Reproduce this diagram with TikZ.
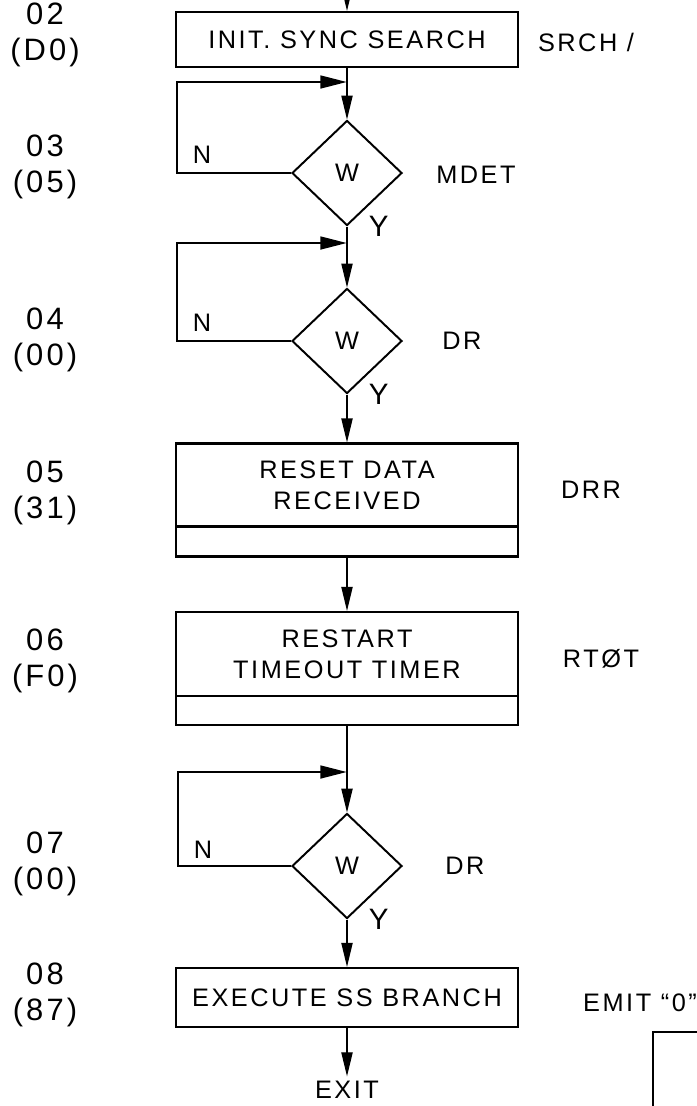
\documentclass[tikz,border=0pt]{standalone}
\usepackage{fontspec}
\setmainfont{Liberation Sans}[LetterSpace=10]
\usetikzlibrary{positioning,shapes.geometric,arrows.meta}

\begin{document}
\begin{tikzpicture}[x=0.025cm, y=-0.025cm,
    every node/.style={font=\fontsize{18}{22}\selectfont},
    procbox/.style={draw, line width=1.6pt, minimum width=8.55cm, align=center, inner sep=2pt},
    waitdia/.style={draw, diamond, line width=1.4pt, minimum width=2.75cm, minimum height=2.625cm, inner sep=0pt},
    stepno/.style={align=center, font=\fontsize{22}{26}\selectfont},
    flow/.style={line width=0.8pt, -{Triangle[length=17pt,width=8pt]}},
    loopback/.style={line width=2pt, -{Triangle[length=19pt,width=9pt]}}]
  \useasboundingbox (0,0) rectangle (697,1106);

  % 02: init sync search
  \coordinate (entry) at (347,-25);
  \node[procbox, minimum height=1.375cm] (b02) at (347,39.5) {INIT. SYNC SEARCH};
  \draw[flow] (entry) -- (b02);
  \node[stepno] (s02) at (45,35) {02\\(D0)};
  \node (r02) at (586,42) {SRCH /};

  % 03: wait for MDET
  \node[waitdia] (d03) at (347,173) {W};
  \draw[flow] (b02) -- (d03);
  \coordinate (c03) at (177,82);
  \coordinate (j03) at (347,82);
  \draw[loopback] (d03.west) -| (c03) -- (j03);
  \node (n03) at (202,155) {N};
  \node[right=12pt of d03.south, font=\fontsize{21}{22}\selectfont] (y03) {Y};
  \node (r03) at (476,175) {MDET};
  \node[stepno] (s03) at (45,167) {03\\(05)};

  % 04: wait for DR
  \node[waitdia] (d04) at (347,341) {W};
  \draw[flow] (d03) -- (d04);
  \coordinate (c04) at (177,243);
  \coordinate (j04) at (347,243);
  \draw[loopback] (d04.west) -| (c04) -- (j04);
  \node (n04) at (202,323) {N};
  \node[right=12pt of d04.south, font=\fontsize{21}{22}\selectfont] (y04) {Y};
  \node (r04) at (462,341) {DR};
  \node[stepno] (s04) at (45,340) {04\\(00)};

  % 05: reset data received
  \node[procbox, minimum height=2.075cm] (b05) at (347,485) {RESET DATA\\RECEIVED};
  \node[procbox, minimum height=0.75cm, below=-1.6pt of b05] (b05x) {};
  \draw[flow] (d04) -- (b05);
  \node (r05) at (591,490) {DRR};
  \node[stepno] (s05) at (45,493) {05\\(31)};

  % 06: restart timeout timer
  \node[procbox, minimum height=2.1cm] (b06) at (347,654) {RESTART\\TIMEOUT TIMER};
  \node[procbox, minimum height=0.725cm, below=-1.6pt of b06] (b06x) {};
  \draw[flow] (b05x) -- (b06);
  \node (r06) at (601,659) {RTØT};
  \node[stepno] (s06) at (45,661) {06\\(F0)};

  % 07: wait for DR again
  \node[waitdia] (d07) at (347,866) {W};
  \draw[flow] (b06x) -- (d07);
  \coordinate (c07) at (178,772);
  \coordinate (j07) at (347,772);
  \draw[loopback] (d07.west) -| (c07) -- (j07);
  \node (n07) at (203,850) {N};
  \node[right=12pt of d07.south, font=\fontsize{21}{22}\selectfont] (y07) {Y};
  \node (r07) at (465,866) {DR};
  \node[stepno] (s07) at (45,864) {07\\(00)};

  % 08: execute SS branch
  \node[procbox, minimum height=1.475cm] (b08) at (347,997.5) {EXECUTE SS BRANCH};
  \draw[flow] (d07) -- (b08);
  \node (r08) at (640,1003) {EMIT “0”};
  \node[stepno] (s08) at (45,995) {08\\(87)};
  \node (exit) at (347,1090) {EXIT};
  \draw[flow] (b08) -- (exit);

  % corner of the next chart
  \draw[line width=1.4pt] (705,1032) -| (653,1115);
\end{tikzpicture}
\end{document}
